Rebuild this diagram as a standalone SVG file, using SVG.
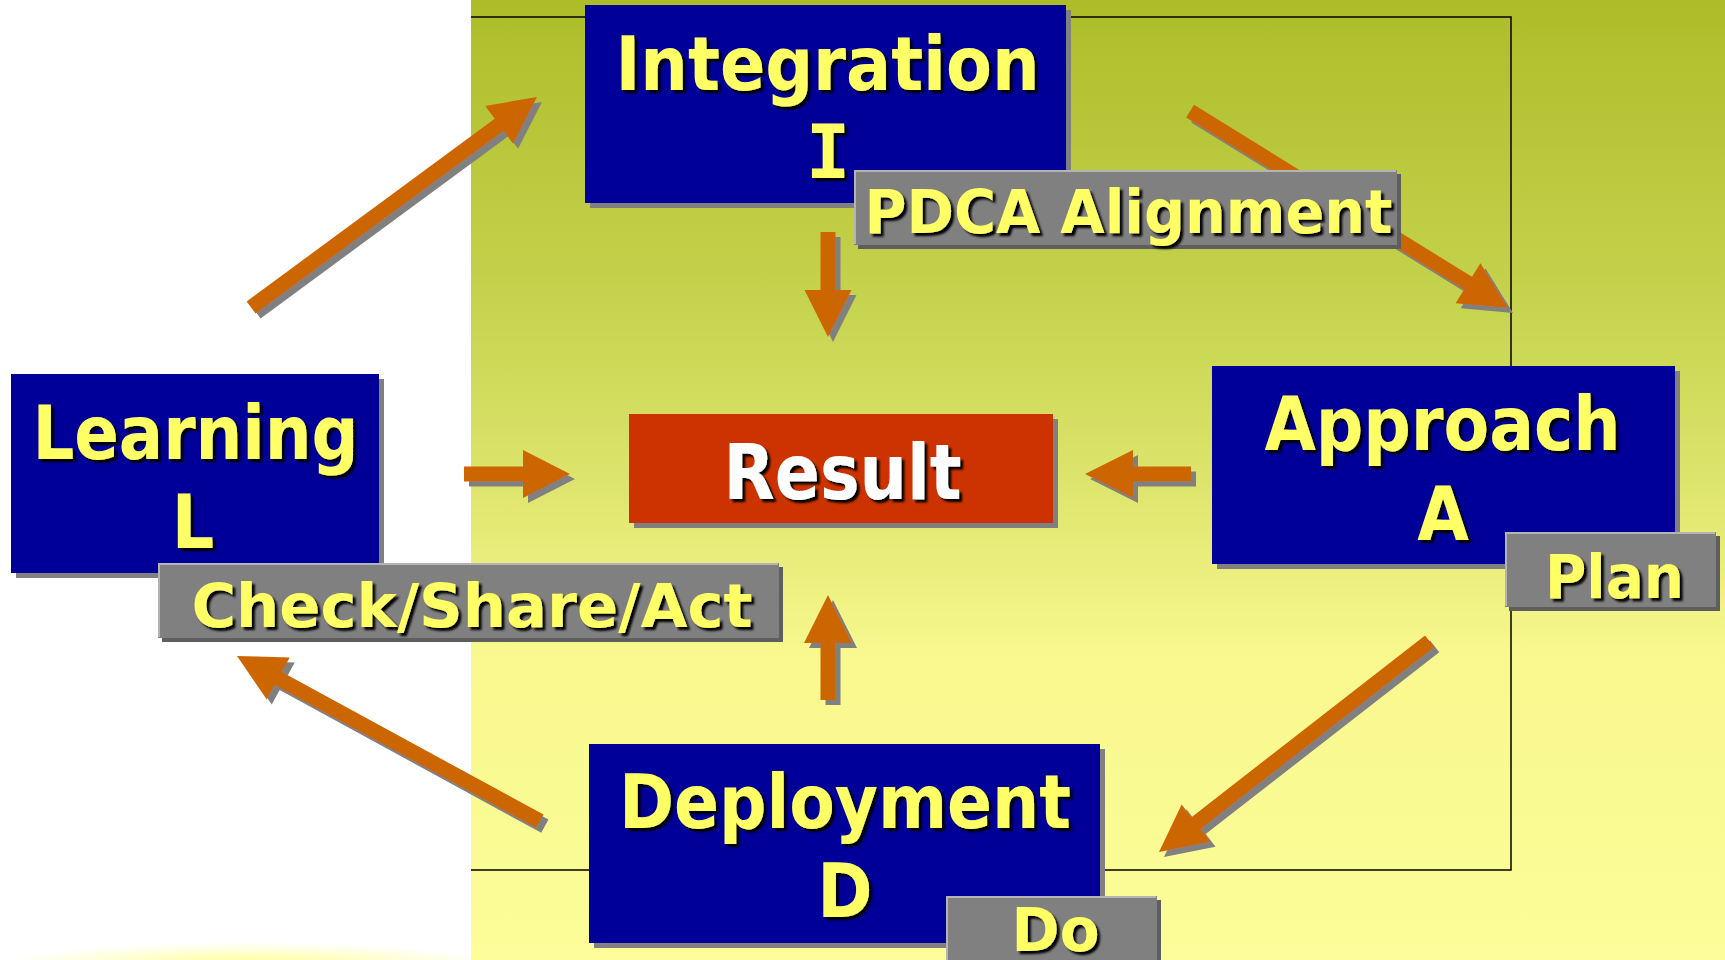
<svg xmlns="http://www.w3.org/2000/svg" width="1725" height="960" viewBox="0 0 1725 960">
<defs>
<linearGradient id="bg" x1="0" y1="0" x2="0" y2="1">
<stop offset="0" stop-color="#ADBD29"/>
<stop offset="0.3" stop-color="#C4D24C"/>
<stop offset="0.5" stop-color="#DDE46C"/>
<stop offset="0.68" stop-color="#F8F88E"/>
<stop offset="1" stop-color="#FDFD99"/>
</linearGradient>
<radialGradient id="glow" cx="0.5" cy="0.5" r="0.5">
<stop offset="0" stop-color="#FFFF60" stop-opacity="0.9"/>
<stop offset="1" stop-color="#FFFF90" stop-opacity="0"/>
</radialGradient>
<filter id="ts" x="-5%" y="-10%" width="115%" height="130%">
<feGaussianBlur in="SourceAlpha" stdDeviation="0.8"/>
<feOffset dx="3" dy="3" result="o"/>
<feMerge><feMergeNode in="o"/><feMergeNode in="SourceGraphic"/></feMerge>
</filter>
<filter id="as" x="-10%" y="-10%" width="125%" height="125%">
<feFlood flood-color="#808080"/>
<feComposite in2="SourceAlpha" operator="in"/>
<feOffset dx="5" dy="5" result="s"/>
<feMerge><feMergeNode in="s"/><feMergeNode in="SourceGraphic"/></feMerge>
</filter>
<style>
.box{fill:#000099}
.shd{fill:#808080}
.res{fill:#CC3300}
.lab{fill:#808080}
.labhi{fill:none;stroke:#B4B4B4;stroke-width:2}
.labshd{fill:#5E5E5E}
.arr{fill:#CC6600}
.t{font-family:"DejaVu Sans Condensed","DejaVu Sans","Liberation Sans",sans-serif;font-weight:bold;fill:#FFFF66;text-anchor:middle;filter:url(#ts)}
.mono{font-family:"DejaVu Sans Mono","Liberation Mono",monospace}
.big{font-size:74px}
.sm{font-size:60px}
.w{fill:#FFFFFF;font-size:76px}
</style>
</defs>
<rect x="0" y="0" width="1725" height="960" fill="#FFFFFF"/>
<rect x="471" y="0" width="1254" height="960" fill="url(#bg)"/>
<ellipse cx="250" cy="968" rx="260" ry="26" fill="url(#glow)"/>
<polyline points="471,17 1511,17 1511,870 471,870" fill="none" stroke="#000000" stroke-width="1.5"/>

<g id="connectors">
<g filter="url(#as)"><polygon class="arr" transform="translate(537,97) rotate(-36.36)" points="-355,-7.5 -47,-7.5 -47,-23.5 0,0 -47,23.5 -47,7.5 -355,7.5"/></g>
<g filter="url(#as)"><polygon class="arr" transform="translate(1508,308) rotate(31.78)" points="-374,-7.5 -47,-7.5 -47,-23.5 0,0 -47,23.5 -47,7.5 -374,7.5"/></g>
<g filter="url(#as)"><polygon class="arr" transform="translate(828,337) rotate(90)" points="-105,-7.5 -47,-7.5 -47,-23.5 0,0 -47,23.5 -47,7.5 -105,7.5"/></g>
<g filter="url(#as)"><polygon class="arr" transform="translate(1085,474) rotate(180)" points="-106,-7.5 -48,-7.5 -48,-24 0,0 -48,24 -48,7.5 -106,7.5"/></g>
<g filter="url(#as)"><polygon class="arr" transform="translate(570,474)" points="-106,-7.5 -47,-7.5 -47,-24 0,0 -47,24 -47,7.5 -106,7.5"/></g>
<g filter="url(#as)"><polygon class="arr" transform="translate(828,595) rotate(-90)" points="-105,-7.5 -48,-7.5 -48,-24 0,0 -48,24 -48,7.5 -105,7.5"/></g>
<g filter="url(#as)"><polygon class="arr" transform="translate(1159,852) rotate(142.1)" points="-343,-7.5 -47,-7.5 -47,-23.5 0,0 -47,23.5 -47,7.5 -343,7.5"/></g>
<g filter="url(#as)"><polygon class="arr" transform="translate(237,656) rotate(-151.39)" points="-345,-7.5 -47,-7.5 -47,-24 0,0 -47,24 -47,7.5 -345,7.5"/></g>
</g>

<g id="result">
<rect class="shd" x="634" y="419" width="424" height="109"/>
<rect class="res" x="629" y="414" width="424" height="109"/>
<text class="t w" x="842.5" y="499" textLength="238" lengthAdjust="spacingAndGlyphs">Result</text>
</g>

<g id="integration">
<rect class="shd" x="590" y="10" width="481" height="198"/>
<rect class="box" x="585" y="5" width="481" height="198"/>
<text class="t big" x="827.5" y="90" textLength="424" lengthAdjust="spacingAndGlyphs">Integration</text>
<text class="t big mono" x="828" y="178">I</text>
</g>
<g id="pdca-alignment">
<rect class="labshd" x="858" y="174" width="543" height="75"/>
<rect class="lab" x="854" y="170" width="543" height="75"/>
<polyline class="labhi" points="855,244 855,171 1396,171"/>
<text class="t sm" x="1128.5" y="233" textLength="528" lengthAdjust="spacingAndGlyphs">PDCA Alignment</text>
</g>

<g id="learning">
<rect class="shd" x="16" y="379" width="368" height="199"/>
<rect class="box" x="11" y="374" width="368" height="199"/>
<text class="t big" x="195.5" y="459" textLength="326" lengthAdjust="spacingAndGlyphs">Learning</text>
<text class="t big" x="193" y="548">L</text>
</g>
<g id="check-share-act">
<rect class="labshd" x="162" y="567" width="621" height="75"/>
<rect class="lab" x="158" y="563" width="621" height="75"/>
<polyline class="labhi" points="159,637 159,564 778,564"/>
<text class="t sm" x="472" y="627" textLength="561" lengthAdjust="spacingAndGlyphs">Check/Share/Act</text>
</g>

<g id="approach">
<rect class="shd" x="1217" y="371" width="463" height="198"/>
<rect class="box" x="1212" y="366" width="463" height="198"/>
<text class="t big" x="1442.5" y="450" textLength="356" lengthAdjust="spacingAndGlyphs">Approach</text>
<text class="t big" x="1443" y="540">A</text>
</g>
<g id="plan">
<rect class="labshd" x="1509" y="536" width="211" height="75"/>
<rect class="lab" x="1505" y="532" width="211" height="75"/>
<polyline class="labhi" points="1506,606 1506,533 1715,533"/>
<text class="t sm" x="1614.5" y="598" textLength="139" lengthAdjust="spacingAndGlyphs">Plan</text>
</g>

<g id="deployment">
<rect class="shd" x="594" y="749" width="511" height="199"/>
<rect class="box" x="589" y="744" width="511" height="199"/>
<text class="t big" x="845" y="828" textLength="452" lengthAdjust="spacingAndGlyphs">Deployment</text>
<text class="t big" x="845" y="917">D</text>
</g>
<g id="do">
<rect class="labshd" x="950" y="900" width="211" height="75"/>
<rect class="lab" x="946" y="896" width="211" height="75"/>
<polyline class="labhi" points="947,970 947,897 1156,897"/>
<text class="t sm" x="1055.5" y="951" textLength="88" lengthAdjust="spacingAndGlyphs">Do</text>
</g>
</svg>
